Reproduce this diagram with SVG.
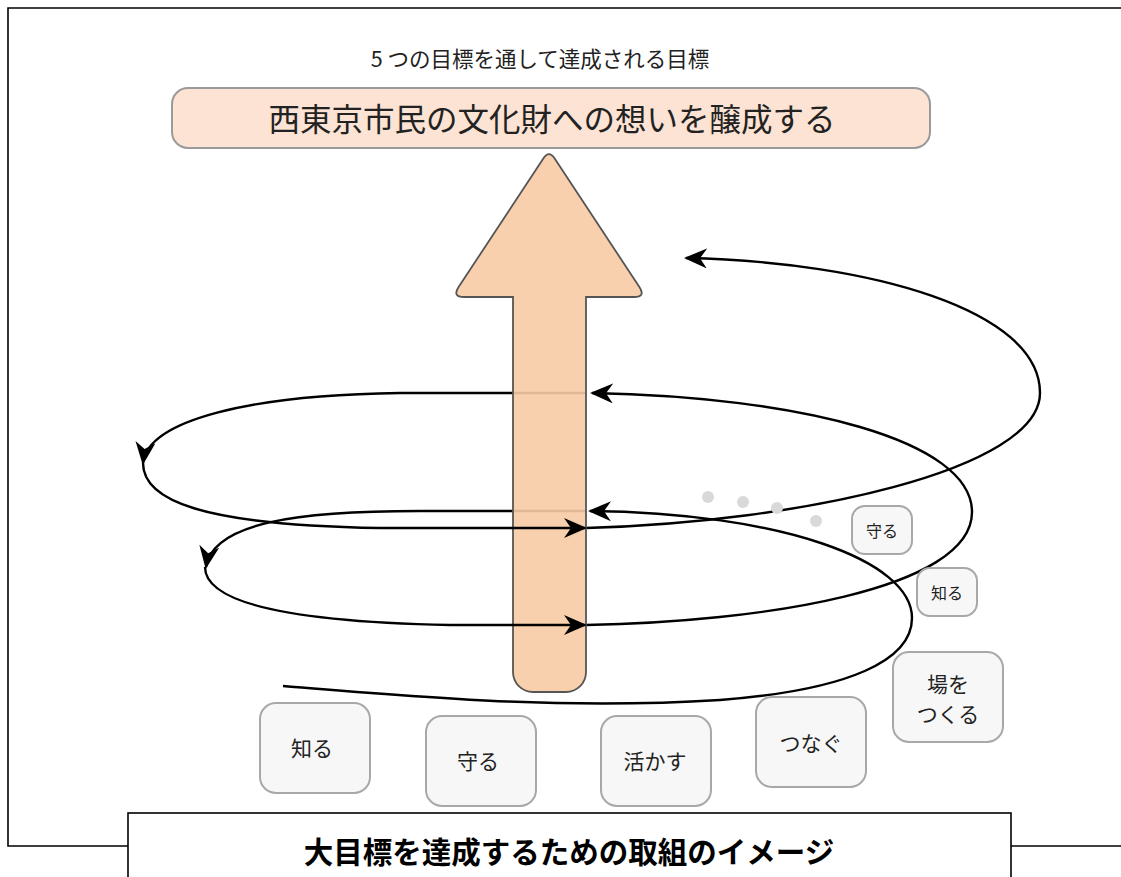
<svg xmlns="http://www.w3.org/2000/svg" width="1121" height="877" viewBox="0 0 1121 877">
<defs>
<style>
.t{font-family:"Noto Sans CJK JP","Noto Sans",sans-serif;fill:#222;text-anchor:middle;dominant-baseline:central}
.node rect{fill:#F7F7F7;stroke:#A8A8A8;stroke-width:2}
.c{fill:none;stroke:#000;stroke-width:2.4;marker-end:url(#ah)}
</style>
<marker id="ah" markerUnits="userSpaceOnUse" markerWidth="26" markerHeight="22" refX="21" refY="10" orient="auto" viewBox="0 0 26 22">
<path d="M23,10 L0,0 L7,10 L0,20 Z" fill="#000"/>
</marker>
</defs>
<rect width="1121" height="877" fill="#fff"/>
<g id="frame" fill="none" stroke="#000" stroke-width="1.6">
<path d="M128,846 L8,846 L8,8 L1121,8"/>
<path d="M1011,846 L1121,846"/>
</g>
<text class="t" x="540" y="57" font-size="21.5">5 つの目標を通して達成される目標</text>
<g id="goal">
<rect x="172" y="88" width="758" height="60" rx="16" fill="#FCE3D3" stroke="#9A9A9A" stroke-width="2"/>
<text class="t" x="552" y="117" font-size="31.5">西東京市民の文化財への想いを醸成する</text>
</g>
<g id="connectors-back">
<path class="c" d="M283,686 C420,697 560,710 720,700 C850,690 912,660 912,618 C912,560 780,513 590,511"/>
<path class="c" d="M586,511 L420,511 C300,511 213,522 206,567"/>
<path class="c" d="M586,625 C760,622 972,590 972,512 C972,440 800,397 592,393"/>
<path class="c" d="M586,393 L400,393 C250,395 148,420 143,463"/>
<path class="c" d="M586,528 C800,522 1040,470 1040,393 C1040,310 870,262 686,258"/>
</g>
<g id="bigarrow">
<path d="M543.5,158.3 Q549,150 554.5,158.3 L639.4,287 Q646,297 634,297 L586,297 L586,672 A20,20 0 0 1 566,692 L533,692 A20,20 0 0 1 513,672 L513,297 L464,297 Q452,297 458.6,287 Z" fill="#F8CBA4" fill-opacity="0.9" stroke="#555" stroke-width="1.8"/>
</g>
<g id="connectors-front">
<path class="c" d="M205,567 C205,605 300,622 450,625 L585,625"/>
<path class="c" d="M143,463 C143,500 200,525 380,528 L585,528"/>
</g>
<g id="dots" fill="#D9D9D9">
<circle cx="708" cy="497" r="6"/>
<circle cx="743" cy="502" r="6"/>
<circle cx="777" cy="508" r="6"/>
<circle cx="816" cy="521" r="6"/>
</g>
<g id="n-mamoru-s" class="node"><rect x="852" y="506" width="60" height="48" rx="13"/><text class="t" x="882" y="530" font-size="16">守る</text></g>
<g id="n-shiru-s" class="node"><rect x="917" y="568" width="60" height="48" rx="13"/><text class="t" x="947" y="592" font-size="16">知る</text></g>
<g id="n-shiru" class="node"><rect x="260" y="703" width="110" height="90" rx="16"/><text class="t" x="312" y="747" font-size="21">知る</text></g>
<g id="n-mamoru" class="node"><rect x="426" y="716" width="110" height="90" rx="16"/><text class="t" x="478" y="760" font-size="21">守る</text></g>
<g id="n-ikasu" class="node"><rect x="601" y="716" width="110" height="90" rx="16"/><text class="t" x="655" y="760" font-size="21">活かす</text></g>
<g id="n-tsunagu" class="node"><rect x="756" y="697" width="110" height="90" rx="16"/><text class="t" x="811" y="742" font-size="21">つなぐ</text></g>
<g id="n-ba" class="node"><rect x="893" y="652" width="110" height="90" rx="16"/><text class="t" x="948" y="683" font-size="21">場を</text><text class="t" x="948" y="713" font-size="21">つくる</text></g>
<g id="title">
<rect x="128" y="813" width="883" height="80" fill="#fff" stroke="#000" stroke-width="1.6"/>
<text class="t" x="569" y="850" font-size="29.5" font-weight="bold" style="fill:#000">大目標を達成するための取組のイメージ</text>
</g>
</svg>
